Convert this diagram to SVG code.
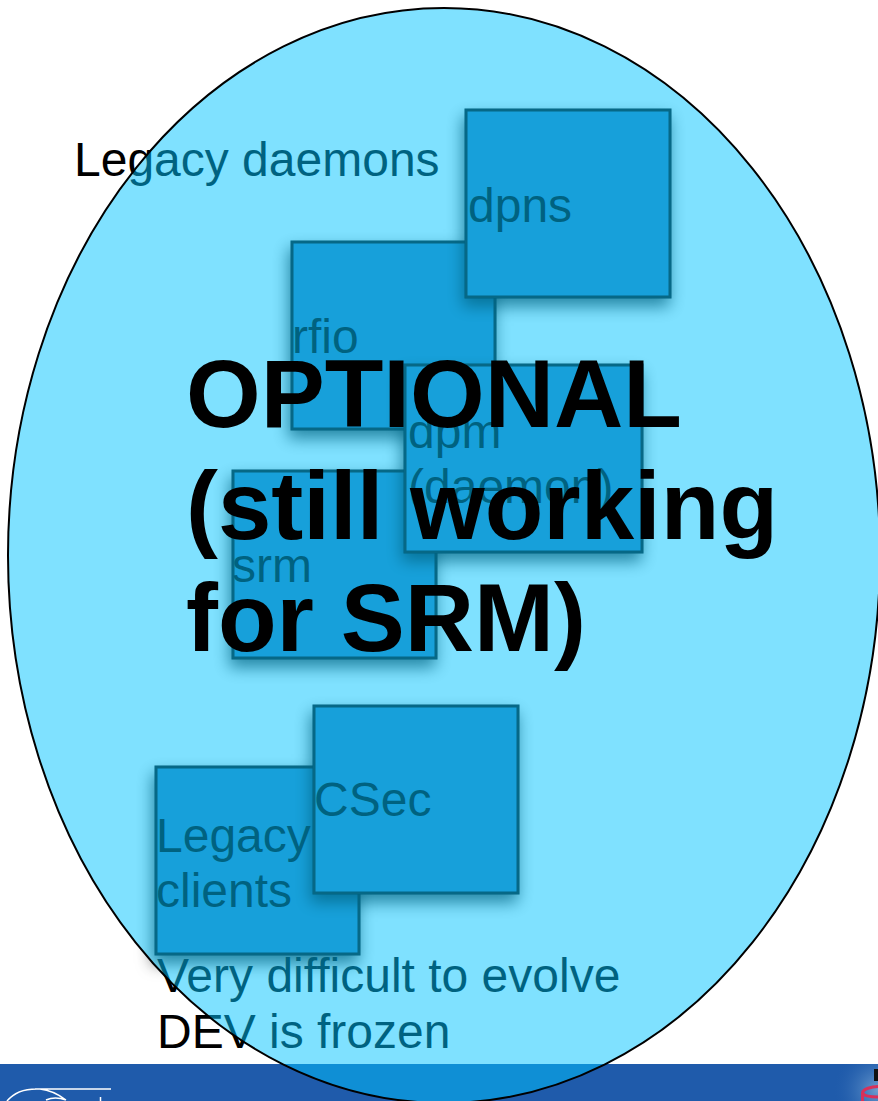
<svg xmlns="http://www.w3.org/2000/svg" width="878" height="1101" viewBox="0 0 878 1101">
<defs>
<style>
.b{fill:#2e7db5;stroke:#0a0a0a;stroke-width:3;filter:url(#s)}
.t{font-family:"Liberation Sans",Arial,sans-serif;font-size:48px;fill:#000}
.o{font-family:"Liberation Sans",Arial,sans-serif;font-size:96px;font-weight:bold;fill:#000}
</style>
<filter id="s" x="-20%" y="-20%" width="140%" height="140%"><feDropShadow dx="-2" dy="8" stdDeviation="8" flood-color="#000" flood-opacity=".7"/></filter>
<radialGradient id="glow" gradientUnits="userSpaceOnUse" cx="878" cy="1090" r="45"><stop offset="0" stop-color="#6f9fd0"/><stop offset="1" stop-color="#1f5bab" stop-opacity="0"/></radialGradient>
</defs>
<rect width="878" height="1101" fill="#fff"/>
<rect id="banner" x="0" y="1064" width="878" height="37" fill="#1f5bab"/>
<g id="logo" fill="none" stroke="#fff" stroke-width="1.5"><path d="M7 1101C16 1090 30 1088.500 40 1089C50 1090 58 1094 66 1100M35 1089H111M46 1100Q55 1096 66 1100M100.500 1097V1101"/></g>
<g id="corner"><rect x="830" y="1064" width="48" height="37" fill="url(#glow)"/><rect x="874" y="1069" width="4" height="12" fill="#111"/><path d="M862.500 1101V1093C862.500 1089 872 1086.500 878 1086.500M862.500 1093C864 1096 872 1097 878 1097" fill="none" stroke="#d8305a" stroke-width="3"/></g>
<g id="legacy-daemons"><text class="t" x="74" y="176">Legacy daemons</text></g>
<g id="rfio"><rect class="b" x="292" y="242" width="203" height="187"/><text class="t" x="292" y="353">rfio</text></g>
<g id="dpns"><rect class="b" x="466" y="110" width="204" height="187"/><text class="t" x="468" y="222">dpns</text></g>
<g id="srm"><rect class="b" x="233" y="471" width="203" height="187"/><text class="t" x="232" y="582">srm</text></g>
<g id="dpm"><rect class="b" x="405" y="365" width="237" height="187"/><text class="t" x="408" y="448">dpm</text><text class="t" x="408" y="503">(daemon)</text></g>
<g id="legacy-clients"><rect class="b" x="156" y="767" width="203" height="187"/><text class="t" x="156" y="852">Legacy</text><text class="t" x="156" y="907">clients</text></g>
<g id="csec"><rect class="b" x="314" y="706" width="204" height="187"/><text class="t" x="314" y="816">CSec</text></g>
<g id="notes"><text class="t" x="157" y="992">Very difficult to evolve</text><text class="t" x="157" y="1048">DEV is frozen</text></g>
<ellipse id="bubble" cx="444" cy="555.500" rx="436" ry="547.500" fill="#00c3ff" fill-opacity=".5" stroke="#000" stroke-width="2"/>
<g id="optional"><text class="o" x="186" y="427">OPTIONAL</text><text class="o" x="186" y="539">(still working</text><text class="o" x="186" y="651">for SRM)</text></g>
</svg>
